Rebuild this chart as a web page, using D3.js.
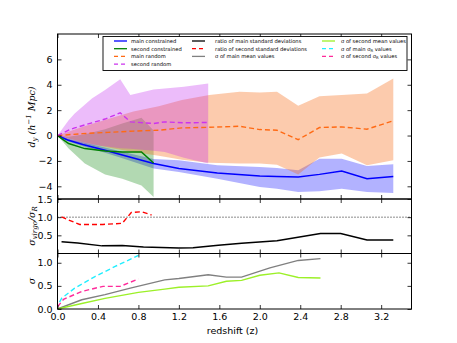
<!DOCTYPE html>
<html>
<head>
	<meta charset="utf-8">
	<title>Redshift deviations</title>
	<script src="https://cdnjs.cloudflare.com/ajax/libs/d3/7.8.5/d3.min.js"></script>
	<style type="text/css">
		body { margin: 0; background: #fff; }
		text { font-family: "DejaVu Sans", sans-serif; }
		.tick line { stroke: #000; stroke-width: 0.8px; }
		.tick text { font-size: 9.5px; fill: #000; }
	</style>
</head>
<body>
	<script type="text/javascript">

		// main constrained (blue)
		let mainConZ = [0, 0.1, 0.25, 0.47, 0.65, 0.95, 1.2, 1.58, 2.0, 2.17, 2.38, 2.59, 2.81, 3.06, 3.32];
		let mainConMean = [0, -0.35, -0.7, -1.16, -1.55, -2.2, -2.6, -2.95, -3.19, -3.22, -3.27, -3.06, -2.8, -3.4, -3.22];
		let mainConHi = [0, -0.25, -0.55, -0.95, -1.3, -1.85, -1.95, -2.35, -2.47, -2.55, -2.74, -1.82, -1.82, -2.4, -2.27];
		let mainConLo = [0, -0.45, -0.85, -1.35, -1.8, -2.6, -2.88, -3.4, -4.06, -4.2, -4.45, -4.38, -4.2, -4.45, -4.53];

		// second constrained (green)
		let secConZ = [0, 0.11, 0.27, 0.47, 0.64, 0.83, 0.95];
		let secConMean = [0, -0.63, -1.03, -1.22, -1.3, -1.3, -2.16];
		let secConHi = [0, -0.1, 0.1, 0.5, 0.95, 1.4, 0.4];
		let secConLo = [0, -1.03, -2.2, -3.06, -3.4, -3.93, -4.85];

		// main random (orange)
		let mainRanZ = [0, 0.25, 0.5, 0.75, 1.0, 1.23, 1.5, 1.8, 2.0, 2.17, 2.38, 2.59, 2.81, 3.06, 3.32];
		let mainRanMean = [0, 0.15, 0.25, 0.35, 0.42, 0.6, 0.65, 0.73, 0.47, 0.42, -0.32, 0.63, 0.68, 0.5, 1.16];
		let mainRanHi = [0, 0.7, 1.3, 1.9, 2.3, 2.8, 3.2, 3.45, 3.4, 3.45, 2.34, 3.1, 3.2, 3.32, 4.5];
		let mainRanLo = [0, -0.5, -0.95, -1.3, -1.6, -1.9, -2.15, -2.2, -2.2, -2.3, -3.06, -1.74, -1.42, -2.35, -1.95];

		// second random (violet)
		let secRanZ = [0, 0.11, 0.17, 0.34, 0.47, 0.62, 0.72, 0.95, 1.06, 1.25, 1.49];
		let secRanMean = [0, 0.42, 0.6, 1.0, 1.3, 1.79, 1.08, 0.95, 1.08, 1.0, 1.03];
		let secRanHi = [0, 1.2, 1.74, 2.92, 3.58, 4.43, 3.19, 3.63, 3.7, 3.85, 4.1];
		let secRanLo = [0, -0.35, -0.5, -0.75, -0.85, -1.0, -1.05, -1.2, -1.3, -1.75, -2.2];

		// ratio of standard deviations
		let ratioMainZ = [0.04, 0.2, 0.44, 0.64, 0.85, 1.2, 1.34, 1.59, 1.82, 2.17, 2.6, 2.8, 3.06, 3.32];
		let ratioMain = [0.32, 0.29, 0.21, 0.22, 0.18, 0.15, 0.16, 0.23, 0.28, 0.35, 0.55, 0.55, 0.37, 0.37];
		let ratioSecZ = [0.04, 0.11, 0.22, 0.45, 0.64, 0.73, 0.83, 0.93];
		let ratioSec = [1.01, 0.92, 0.8, 0.8, 0.83, 1.13, 1.15, 1.06];

		// sigma of the values
		let sigMainMeanZ = [0, 0.24, 0.47, 0.72, 1.06, 1.2, 1.49, 1.67, 1.82, 2.1, 2.38, 2.6];
		let sigMainMean = [0, 0.2, 0.31, 0.45, 0.63, 0.66, 0.74, 0.69, 0.69, 0.89, 1.05, 1.09];
		let sigSecMeanZ = [0, 0.24, 0.47, 0.8, 1.06, 1.2, 1.49, 1.67, 1.82, 2.0, 2.19, 2.38, 2.6];
		let sigSecMean = [0, 0.12, 0.23, 0.36, 0.43, 0.47, 0.5, 0.6, 0.62, 0.73, 0.78, 0.68, 0.67];
		let sigMainRZ = [0.02, 0.04, 0.17, 0.37, 0.57, 0.8];
		let sigMainR = [0.15, 0.23, 0.45, 0.7, 0.92, 1.16];
		let sigSecRZ = [0, 0.06, 0.24, 0.45, 0.62, 0.8];
		let sigSecR = [0.05, 0.21, 0.38, 0.49, 0.49, 0.65];

		let xTicks = [0, 0.4, 0.8, 1.2, 1.6, 2.0, 2.4, 2.8, 3.2];
		let topTicks = [-4, -2, 0, 2, 4, 6];
		let midTicks = [0.5, 1.0, 1.5];
		let botTicks = [0, 0.5, 1.0];

		let width = 457, height = 343;
		let left = 57.5, right = 411.5;

		let svg = d3.select('body').append('svg')
			.attr('width', width)
			.attr('height', height);

		let x = d3.scaleLinear().domain([0, 3.5]).range([left, right]);

		let panels = [
			{ y: d3.scaleLinear().domain([-5, 8]).range([199, 34]), ticks: topTicks, fmt: d => d3.format('d')(d) },
			{ y: d3.scaleLinear().domain([0, 1.5]).range([253.5, 199]), ticks: midTicks, fmt: d3.format('.1f') },
			{ y: d3.scaleLinear().domain([0, 1.2]).range([309, 253.5]), ticks: botTicks, fmt: d3.format('.1f') }
		];

		function zip(zs, vs) { return zs.map((z, i) => ({ z: z, v: vs[i] })); }
		function band(zs, lo, hi) { return zs.map((z, i) => ({ z: z, lo: lo[i], hi: hi[i] })); }

		panels.forEach((p, i) => {
			svg.append('clipPath').attr('id', 'clip' + i)
				.append('rect')
				.attr('x', left).attr('y', p.y.range()[1])
				.attr('width', right - left).attr('height', p.y.range()[0] - p.y.range()[1]);
			p.g = svg.append('g').attr('clip-path', 'url(#clip' + i + ')');
		});

		function drawBand(p, data, color, op) {
			let area = d3.area()
				.x(d => x(d.z))
				.y0(d => p.y(d.lo))
				.y1(d => p.y(d.hi));
			p.g.append('path').datum(data)
				.attr('d', area)
				.attr('fill', color)
				.attr('fill-opacity', op)
				.attr('stroke', 'none');
		}

		function drawLine(p, data, color, w, dash) {
			let line = d3.line().x(d => x(d.z)).y(d => p.y(d.v));
			p.g.append('path').datum(data)
				.attr('d', line)
				.attr('fill', 'none')
				.attr('stroke', color)
				.attr('stroke-width', w)
				.attr('stroke-dasharray', dash || null);
		}

		let pTop = panels[0], pMid = panels[1], pBot = panels[2];

		// bands
		drawBand(pTop, band(mainConZ, mainConLo, mainConHi), '#0000ff', 0.3);
		drawBand(pTop, band(secConZ, secConLo, secConHi), '#008000', 0.3);
		drawBand(pTop, band(mainRanZ, mainRanLo, mainRanHi), '#f66a14', 0.35);
		drawBand(pTop, band(secRanZ, secRanLo, secRanHi), '#c020f0', 0.3);

		// lines, top panel
		drawLine(pTop, zip(mainConZ, mainConMean), '#0000ff', 1.5);
		drawLine(pTop, zip(secConZ, secConMean), '#008000', 1.5);
		drawLine(pTop, zip(mainRanZ, mainRanMean), '#ff6a14', 1.4, '5,3');
		drawLine(pTop, zip(secRanZ, secRanMean), '#cc33ee', 1.4, '5,3');

		// middle panel
		pMid.g.append('line')
			.attr('x1', left).attr('x2', right)
			.attr('y1', pMid.y(1)).attr('y2', pMid.y(1))
			.attr('stroke', '#000').attr('stroke-width', 0.9)
			.attr('stroke-dasharray', '1,2');
		drawLine(pMid, zip(ratioMainZ, ratioMain), '#000', 1.5);
		drawLine(pMid, zip(ratioSecZ, ratioSec), '#ff0000', 1.4, '5,3');

		// bottom panel
		drawLine(pBot, zip(sigMainMeanZ, sigMainMean), '#808080', 1.4);
		drawLine(pBot, zip(sigSecMeanZ, sigSecMean), '#9cf028', 1.4);
		drawLine(pBot, zip(sigMainRZ, sigMainR), '#22eeff', 1.4, '5,3');
		drawLine(pBot, zip(sigSecRZ, sigSecR), '#ff2a9a', 1.4, '5,3');

		// axes
		panels.forEach((p, i) => {
			let y0 = p.y.range()[0], y1 = p.y.range()[1];
			let isBottom = i === 2;
			svg.append('g').attr('transform', 'translate(0,' + y0 + ')')
				.call(d3.axisBottom(x).tickValues(xTicks).tickSize(-4).tickPadding(4)
					.tickFormat(isBottom ? d3.format('.1f') : () => ''))
				.call(g => g.select('.domain').remove());
			svg.append('g').attr('transform', 'translate(0,' + y1 + ')')
				.call(d3.axisTop(x).tickValues(xTicks).tickSize(-4).tickFormat(() => ''))
				.call(g => g.select('.domain').remove());
			svg.append('g').attr('transform', 'translate(' + left + ',0)')
				.call(d3.axisLeft(p.y).tickValues(p.ticks).tickSize(-4).tickPadding(5)
					.tickFormat(d => p.fmt(d).replace('-', '\u2212')))
				.call(g => g.select('.domain').remove());
			svg.append('g').attr('transform', 'translate(' + right + ',0)')
				.call(d3.axisRight(p.y).tickValues(p.ticks).tickSize(-4).tickFormat(() => ''))
				.call(g => g.select('.domain').remove());
			svg.append('rect')
				.attr('x', left).attr('y', y1)
				.attr('width', right - left).attr('height', y0 - y1)
				.attr('fill', 'none').attr('stroke', '#000').attr('stroke-width', 1);
		});
		svg.selectAll('.tick text').style('font-family', '"DejaVu Sans", sans-serif');

		// axis labels
		svg.append('text')
			.attr('x', (left + right) / 2 - 2).attr('y', 334)
			.attr('text-anchor', 'middle')
			.style('font-size', '9.5px')
			.text('redshift (z)');

		let ylab1 = svg.append('text')
			.attr('transform', 'translate(35,117) rotate(-90)')
			.attr('text-anchor', 'middle')
			.style('font-family', '"DejaVu Serif", serif')
			.style('font-style', 'italic')
			.style('font-size', '9.5px');
		ylab1.append('tspan').text('d');
		ylab1.append('tspan').attr('dy', 2).style('font-size', '7px').text('y');
		ylab1.append('tspan').attr('dy', -2).text(' (h');
		ylab1.append('tspan').attr('dy', -4).style('font-size', '7px').text('\u22121');
		ylab1.append('tspan').attr('dy', 4).text(' Mpc)');

		let ylab2 = svg.append('text')
			.attr('transform', 'translate(35,226) rotate(-90)')
			.attr('text-anchor', 'middle')
			.style('font-family', '"DejaVu Serif", serif')
			.style('font-style', 'italic')
			.style('font-size', '9.5px');
		ylab2.append('tspan').text('\u03c3');
		ylab2.append('tspan').attr('dy', 2).style('font-size', '7px').text('virgo');
		ylab2.append('tspan').attr('dy', -2).text('/\u03c3');
		ylab2.append('tspan').attr('dy', 2).style('font-size', '7px').text('R');

		svg.append('text')
			.attr('transform', 'translate(35,281) rotate(-90)')
			.attr('text-anchor', 'middle')
			.style('font-family', '"DejaVu Serif", serif')
			.style('font-style', 'italic')
			.style('font-size', '9.5px')
			.text('\u03c3');

		// legend
		let legendItems = [
			{ label: 'main constrained', color: '#0000ff', dash: null, col: 0, row: 0 },
			{ label: 'second constrained', color: '#008000', dash: null, col: 0, row: 1 },
			{ label: 'main random', color: '#ff6a14', dash: '4,3', col: 0, row: 2 },
			{ label: 'second random', color: '#cc33ee', dash: '4,3', col: 0, row: 3 },
			{ label: 'ratio of main standard deviations', color: '#000', dash: null, col: 1, row: 0 },
			{ label: 'ratio of second standard deviations', color: '#ff0000', dash: '4,3', col: 1, row: 1 },
			{ label: '\u03c3 of main mean values', color: '#808080', dash: null, col: 1, row: 2 },
			{ label: '\u03c3 of second mean values', color: '#9cf028', dash: null, col: 2, row: 0 },
			{ label: '\u03c3 of main \u03c3', sub: 'R', tail: ' values', color: '#22eeff', dash: '4,3', col: 2, row: 1 },
			{ label: '\u03c3 of second \u03c3', sub: 'R', tail: ' values', color: '#ff2a9a', dash: '4,3', col: 2, row: 2 }
		];
		let colLine = [114, 192, 322];
		let colText = [131, 215, 341];

		let legend = svg.append('g');
		legend.append('rect')
			.attr('x', 103).attr('y', 36.5)
			.attr('width', 304).attr('height', 34)
			.attr('fill', '#fff').attr('stroke', '#000').attr('stroke-width', 0.9);

		legendItems.forEach(d => {
			let cy = 41 + d.row * 7.7;
			legend.append('line')
				.attr('x1', colLine[d.col]).attr('x2', colLine[d.col] + 13)
				.attr('y1', cy).attr('y2', cy)
				.attr('stroke', d.color).attr('stroke-width', 1.3)
				.attr('stroke-dasharray', d.dash);
			let t = legend.append('text')
				.attr('x', colText[d.col]).attr('y', cy + 1.8)
				.style('font-size', '5.2px');
			t.append('tspan').text(d.label);
			if (d.sub) {
				t.append('tspan').attr('dy', 1).style('font-size', '3.8px').text(d.sub);
				t.append('tspan').attr('dy', -1).text(d.tail);
			}
		});
	</script>
</body>
</html>
